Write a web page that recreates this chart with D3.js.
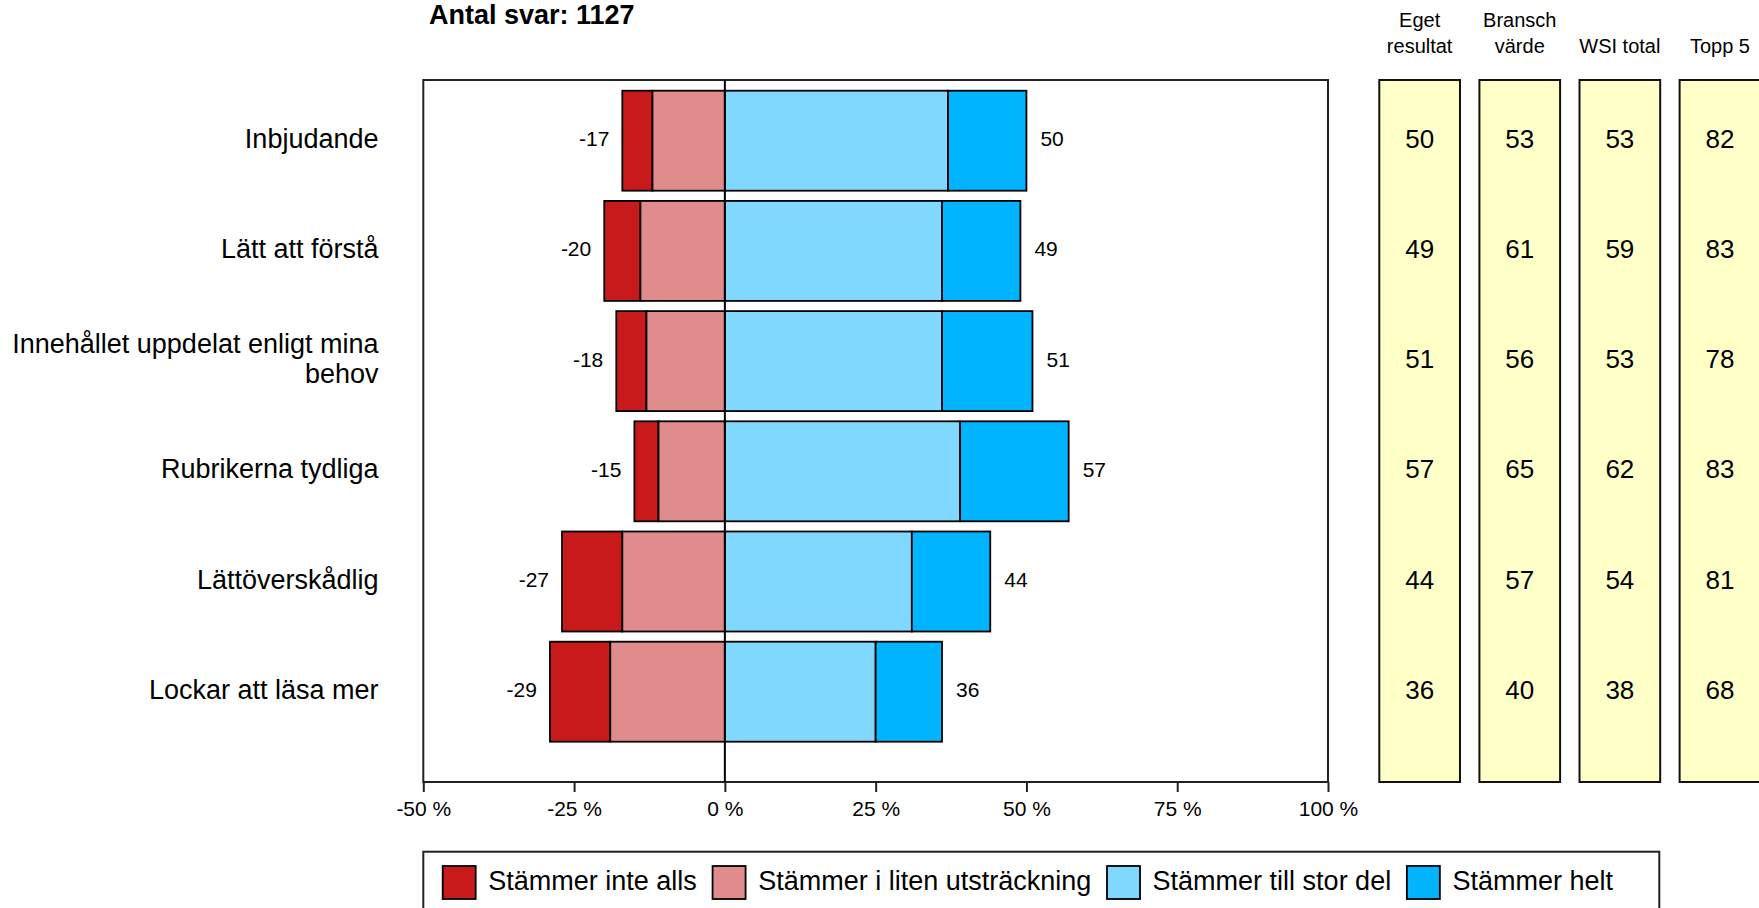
<!DOCTYPE html>
<html>
<head>
<meta charset="utf-8">
<script src="https://cdn.jsdelivr.net/npm/d3@7"></script>
<style>
  html, body { margin: 0; padding: 0; background: #fff; }
  svg { display: block; font-family: "Liberation Sans", Arial, sans-serif; }
</style>
</head>
<body>
<svg id="chart" width="1759" height="908"></svg>
<script>
// ---- data ----
const title = "Antal svar: 1127";
const categories = [
  "Inbjudande",
  "Lätt att förstå",
  "Innehållet uppdelat enligt mina behov",
  "Rubrikerna tydliga",
  "Lättöverskådlig",
  "Lockar att läsa mer"
];
const seriesNames = ["Stämmer inte alls", "Stämmer i liten utsträckning", "Stämmer till stor del", "Stämmer helt"];
const inteAlls   = [5, 6, 5, 4, 10, 10];
const litenUtstr = [12, 14, 13, 11, 17, 19];
const storDel    = [37, 36, 36, 39, 31, 25];
const helt       = [13, 13, 15, 18, 13, 11];
const negTotals  = [-17, -20, -18, -15, -27, -29];
const posTotals  = [50, 49, 51, 57, 44, 36];
const xTicks = [-50, -25, 0, 25, 50, 75, 100];
const xTickLabels = ["-50 %", "-25 %", "0 %", "25 %", "50 %", "75 %", "100 %"];
const panelHeaders = [["Eget", "resultat"], ["Bransch", "värde"], ["WSI total"], ["Topp 5"]];
const egetResultat = [50, 49, 51, 57, 44, 36];
const branschVarde = [53, 61, 56, 65, 57, 40];
const wsiTotal     = [53, 59, 53, 62, 54, 38];
const topp5        = [82, 83, 78, 83, 81, 68];

// ---- styles ----
const colors = ["#C81A1A", "#E08C8C", "#80D8FF", "#00B4FF"];
const boxFill = "#FFFFC8";
const fontStack = '"Liberation Sans", Arial, sans-serif';

const svg = d3.select("#chart");

// plot frame
const frame = { left: 423.3, right: 1328, top: 80, bottom: 782 };

const x = d3.scaleLinear().domain([-50, 100]).range([frame.left, frame.right]);
const y = d3.scaleBand().domain(categories).range([85.6, 746.8])
  .paddingInner(0.0926).paddingOuter(0.0463);

// title
svg.append("text").attr("x", 429).attr("y", 24)
  .attr("font-size", 27).attr("font-weight", "bold").attr("fill", "#000")
  .text(title);

// frame
svg.append("rect")
  .attr("x", frame.left).attr("y", frame.top)
  .attr("width", frame.right - frame.left).attr("height", frame.bottom - frame.top)
  .attr("fill", "#fff").attr("stroke", "#222").attr("stroke-width", 2);

// stacked bars
const rows = categories.map((c, i) => {
  const segs = [
    { s: 0, x0: -(inteAlls[i] + litenUtstr[i]), x1: -litenUtstr[i] },
    { s: 1, x0: -litenUtstr[i], x1: 0 },
    { s: 2, x0: 0, x1: storDel[i] },
    { s: 3, x0: storDel[i], x1: storDel[i] + helt[i] }
  ];
  return { c, i, segs };
});

const rowG = svg.selectAll("g.row").data(rows).join("g").attr("class", "row");
rowG.selectAll("rect").data(d => d.segs.map(s => ({ ...s, c: d.c }))).join("rect")
  .attr("x", d => x(d.x0))
  .attr("y", d => y(d.c))
  .attr("width", d => x(d.x1) - x(d.x0))
  .attr("height", y.bandwidth())
  .attr("fill", d => colors[d.s])
  .attr("stroke", "#000").attr("stroke-width", 1.8);

// zero line
svg.append("line")
  .attr("x1", x(0)).attr("x2", x(0))
  .attr("y1", frame.top).attr("y2", frame.bottom)
  .attr("stroke", "#000").attr("stroke-width", 2);

// total labels
const cy = c => y(c) + y.bandwidth() / 2 - 2;
svg.selectAll("text.neg").data(categories).join("text").attr("class", "neg")
  .attr("x", (c, i) => x(negTotals[i]) - 13)
  .attr("y", c => cy(c)).attr("dominant-baseline", "central")
  .attr("text-anchor", "end").attr("font-size", 21)
  .text((c, i) => negTotals[i]);
svg.selectAll("text.pos").data(categories).join("text").attr("class", "pos")
  .attr("x", (c, i) => x(posTotals[i]) + 14)
  .attr("y", c => cy(c)).attr("dominant-baseline", "central")
  .attr("text-anchor", "start").attr("font-size", 21)
  .text((c, i) => posTotals[i]);

// category labels (wrapped, right aligned)
const labelRight = 378.5, labelMax = 372, lineH = 30.2;
categories.forEach(c => {
  const t = svg.append("text").attr("x", labelRight).attr("text-anchor", "end")
    .attr("font-size", 27).attr("dominant-baseline", "central");
  const words = c.split(" ");
  const lines = [];
  let cur = [];
  const probe = svg.append("text").attr("font-size", 27).attr("visibility", "hidden");
  words.forEach(w => {
    const test = cur.concat([w]).join(" ");
    probe.text(test);
    if (probe.node().getComputedTextLength() > labelMax && cur.length) {
      lines.push(cur.join(" "));
      cur = [w];
    } else cur.push(w);
  });
  lines.push(cur.join(" "));
  probe.remove();
  const c0 = cy(c) - (lines.length - 1) * lineH / 2;
  lines.forEach((ln, k) => {
    t.append("tspan").attr("x", labelRight).attr("y", c0 + k * lineH).text(ln);
  });
});

// x axis
const axis = d3.axisBottom(x).tickValues(xTicks)
  .tickFormat((d, i) => xTickLabels[i]).tickSize(10).tickPadding(9);
const ax = svg.append("g").attr("transform", `translate(0,${frame.bottom})`).call(axis);
ax.select(".domain").remove();
ax.selectAll(".tick line").attr("stroke", "#222").attr("stroke-width", 2);
ax.selectAll(".tick text").attr("font-size", 21).attr("font-family", fontStack).attr("fill", "#000");

// right panels
const panels = [egetResultat, branschVarde, wsiTotal, topp5];
const px = d3.scaleBand().domain(d3.range(panels.length)).range([1379.3, 1760.3])
  .paddingInner(0.194).paddingOuter(0);
panels.forEach((vals, p) => {
  const g = svg.append("g");
  g.append("rect").attr("x", px(p)).attr("y", frame.top)
    .attr("width", px.bandwidth()).attr("height", frame.bottom - frame.top)
    .attr("fill", boxFill).attr("stroke", "#111").attr("stroke-width", 2);
  g.selectAll("text.v").data(categories).join("text").attr("class", "v")
    .attr("x", px(p) + px.bandwidth() / 2).attr("y", c => cy(c))
    .attr("text-anchor", "middle").attr("dominant-baseline", "central")
    .attr("font-size", 26).text((c, i) => vals[i]);
  const hdr = panelHeaders[p];
  hdr.forEach((h, k) => {
    g.append("text").attr("x", px(p) + px.bandwidth() / 2)
      .attr("y", 53 - (hdr.length - 1 - k) * 26)
      .attr("text-anchor", "middle").attr("font-size", 20).text(h);
  });
});

// legend
const legTop = 851.7;
svg.append("rect").attr("x", frame.left).attr("y", legTop)
  .attr("width", 1659.3 - frame.left).attr("height", 100)
  .attr("fill", "#fff").attr("stroke", "#222").attr("stroke-width", 2);
let lx = 442.7;
seriesNames.forEach((name, s) => {
  svg.append("rect").attr("x", lx).attr("y", 866).attr("width", 33).attr("height", 33)
    .attr("fill", colors[s]).attr("stroke", "#000").attr("stroke-width", 1.8);
  const t = svg.append("text").attr("x", lx + 45.6).attr("y", 890)
    .attr("font-size", 27).text(name);
  lx = lx + 45.6 + t.node().getComputedTextLength() + 15.7;
});
</script>
</body>
</html>
